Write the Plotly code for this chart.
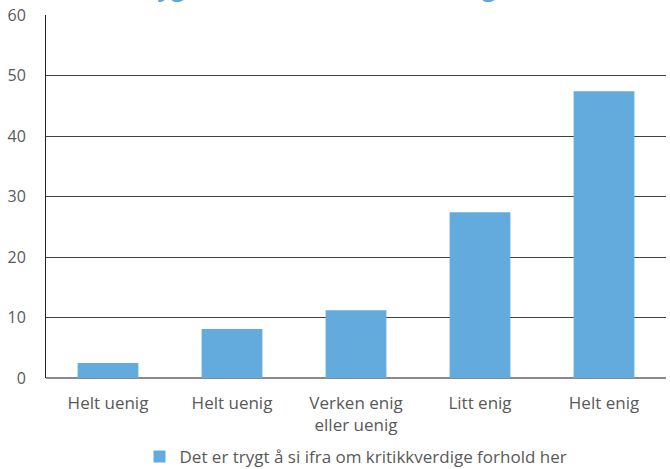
import plotly.graph_objects as go

# Survey answers: share of respondents (%) per answer option
categories = ["Helt uenig", "Helt uenig", "Verken enig<br>eller uenig", "Litt enig", "Helt enig"]
values = [2.5, 8.1, 11.2, 27.4, 47.4]
series_name = "Det er trygt å si ifra om kritikkverdige forhold her"
y_ticks = [0, 10, 20, 30, 40, 50, 60]

positions = list(range(len(categories)))

BAR_COLOR = "#63ABDD"
TEXT_COLOR = "#595959"
GRID_COLOR = "#404040"
FONT = "Open Sans"

fig = go.Figure()
fig.add_trace(go.Bar(
    x=positions,
    y=values,
    name=series_name,
    marker=dict(color=BAR_COLOR, line=dict(width=0)),
    showlegend=True,
))

fig.update_layout(
    width=670,
    height=469,
    margin=dict(l=46, r=4, t=15, b=91, autoexpand=False),
    paper_bgcolor="white",
    plot_bgcolor="white",
    bargap=0.51,
    font=dict(family=FONT, color=TEXT_COLOR, size=16),
    showlegend=True,
    legend=dict(
        orientation="h",
        x=0.5,
        xanchor="center",
        y=(378 - 457) / 363,
        yanchor="middle",
        font=dict(family=FONT, size=17, color=TEXT_COLOR),
        itemwidth=30,
    ),
    xaxis=dict(
        tickmode="array",
        tickvals=positions,
        ticktext=categories,
        range=[-0.5, len(categories) - 0.5],
        showgrid=False,
        showline=False,
        zeroline=False,
        ticks="",
        ticklabelstandoff=13,
        tickfont=dict(family=FONT, size=17, color=TEXT_COLOR),
    ),
    yaxis=dict(
        range=[0, 60],
        tickmode="array",
        tickvals=y_ticks,
        showgrid=True,
        gridcolor=GRID_COLOR,
        gridwidth=1,
        zeroline=True,
        zerolinecolor="#8a8a8a",
        zerolinewidth=2,
        showline=True,
        linecolor="#262626",
        linewidth=1,
        ticks="",
        ticklabelstandoff=16,
        tickfont=dict(family=FONT, size=16, color=TEXT_COLOR),
    ),
)

# Chart title, sitting mostly above the top edge of the page
fig.add_annotation(
    text="<b>" + series_name + "</b>",
    xref="paper",
    yref="paper",
    x=(54 - 46) / 620,
    xanchor="left",
    y=1 + 10 / 363,
    yanchor="bottom",
    showarrow=False,
    font=dict(family=FONT, size=24, color="#5BA8E0"),
)

fig.write_html("out.html")
